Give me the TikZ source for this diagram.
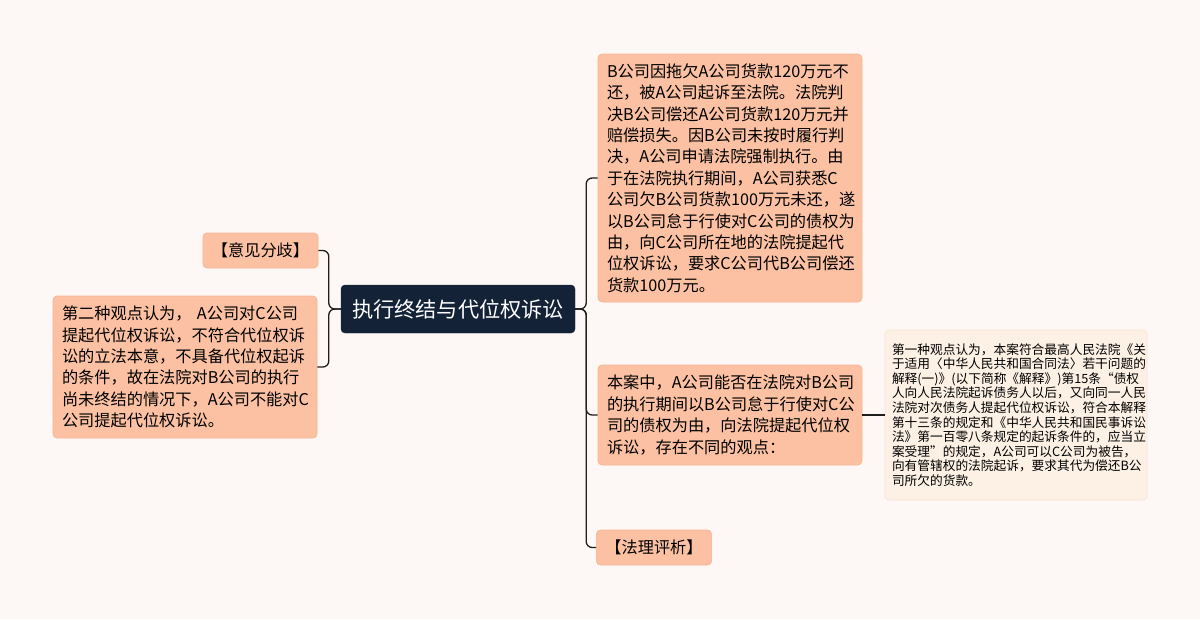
\documentclass[tikz,border=0pt]{standalone}
\usepackage{fontspec}
\setmainfont{Noto Sans CJK SC}
\usetikzlibrary{positioning}

\definecolor{bgpaper}{HTML}{FDF8F6}
\definecolor{navy}{HTML}{142238}
\definecolor{salmon}{HTML}{FBC1A2}
\definecolor{salmonedge}{HTML}{F6B391}
\definecolor{cream}{HTML}{FDF0E4}
\definecolor{creamedge}{HTML}{F8E4D2}
\definecolor{wire}{HTML}{1E1E1E}

\tikzset{
  topic/.style={rounded corners=4pt, fill=navy, draw=navy, text=white,
    minimum width=234pt, minimum height=48pt,
    font=\fontsize{21.2}{24}\selectfont},
  leaf/.style={rounded corners=4pt, fill=salmon, draw=salmonedge, line width=0.6pt,
    align=left, inner xsep=9pt, inner ysep=6pt,
    font=\fontsize{16.2}{21.4}\selectfont},
  tag/.style={leaf, minimum height=35pt},
  note/.style={rounded corners=4pt, fill=cream, draw=creamedge, line width=0.6pt,
    align=left, inner xsep=7pt, inner ysep=5pt, text width=248pt,
    font=\fontsize{12.7}{14.6}\selectfont},
  link/.style={draw=wire, line width=1.3pt, rounded corners=6pt}
}

\begin{document}
\begin{tikzpicture}[x=1pt, y=-1pt]

    \fill[bgpaper] (0,0) rectangle (1200,619);
    \useasboundingbox (0,0) rectangle (1200,619);

    % centre topic
    \node[topic] (main) at (458,309) {执行终结与代位权诉讼};

    % right branch
    \node[leaf, text width=246pt, minimum height=248pt] (facts) at (730,178)
        {B公司因拖欠A公司货款120万元不\\还，被A公司起诉至法院。法院判\\决B公司偿还A公司货款120万元并\\赔偿损失。因B公司未按时履行判\\决，A公司申请法院强制执行。由\\于在法院执行期间，A公司获悉C\\公司欠B公司货款100万元未还，遂\\以B公司怠于行使对C公司的债权为\\由，向C公司所在地的法院提起代\\位权诉讼，要求C公司代B公司偿还\\货款100万元。};
    \node[leaf, text width=246pt, minimum height=100pt] (issue) at (730,415)
        {本案中，A公司能否在法院对B公司\\的执行期间以B公司怠于行使对C公\\司的债权为由，向法院提起代位权\\诉讼，存在不同的观点：};
    \node[tag] (review) at (654,547.5) {【法理评析】};

    \node[note, minimum height=170pt] (view1) at (1016,415)
        {第一种观点认为，本案符合最高人民法院《关\\于适用〈中华人民共和国合同法〉若干问题的\\解释(一)》(以下简称《解释》)第15条“债权\\人向人民法院起诉债务人以后，又向同一人民\\法院对次债务人提起代位权诉讼，符合本解释\\第十三条的规定和《中华人民共和国民事诉讼\\法》第一百零八条规定的起诉条件的，应当立\\案受理”的规定，A公司可以C公司为被告，\\向有管辖权的法院起诉，要求其代为偿还B公\\司所欠的货款。};

    % left branch
    \node[tag] (split) at (260.5,250.5) {【意见分歧】};
    \node[leaf, text width=246pt, minimum height=142pt] (view2) at (185,367)
        {第二种观点认为， A公司对C公司\\提起代位权诉讼，不符合代位权诉\\讼的立法本意，不具备代位权起诉\\的条件，故在法院对B公司的执行\\尚未终结的情况下，A公司不能对C\\公司提起代位权诉讼。};

    % connectors
    \draw[link] (main.east) -- ++(11,0) |- (facts.west);
    \draw[link] (main.east) -- ++(11,0) |- (issue.west);
    \draw[link] (main.east) -- ++(11,0) |- (review.west);
    \draw[link] (issue.east) -- (view1.west);
    \draw[link] (main.west) -- ++(-12,0) |- (split.east);
    \draw[link] (main.west) -- ++(-12,0) |- (view2.east);

\end{tikzpicture}
\end{document}
